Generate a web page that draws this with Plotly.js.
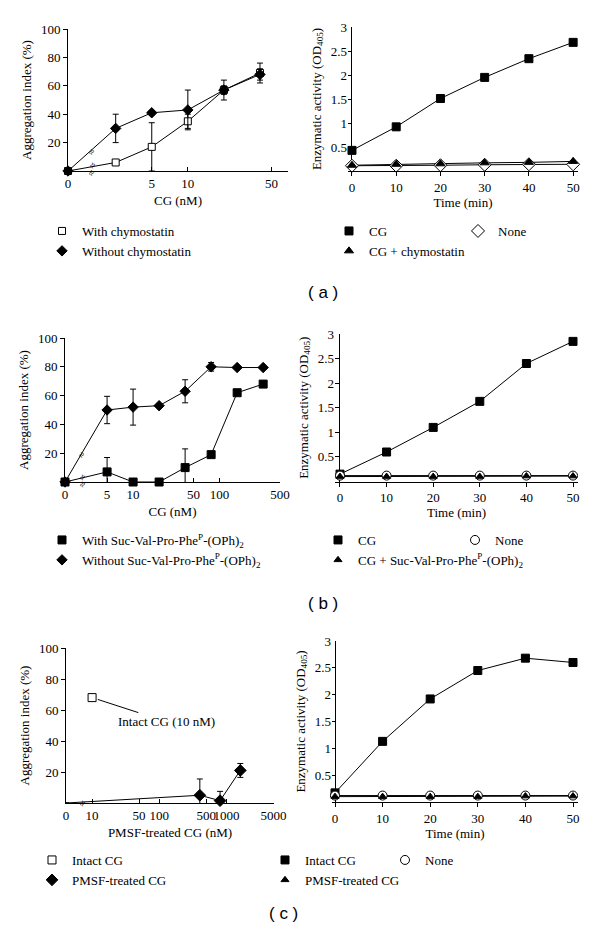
<!DOCTYPE html>
<html><head><meta charset="utf-8">
<script src="https://cdn.plot.ly/plotly-3.0.1.min.js"></script>
<style>html,body{margin:0;padding:0;background:#fff}#chart{width:600px;height:933px}</style>
</head><body><div id="chart"></div>
<script>
// ---------- DATA ----------
// (a) left: aggregation vs CG concentration
const concA = [0, 2.5, 5, 10, 20, 40];
const aggWithChymo = [0, 6, 17, 35, 57, 69];
const errWithChymo = [0, 0, 17, 5, 7, 7];
const aggWithoutChymo = [0, 30, 41, 43, 57, 68];
const errWithoutChymo = [0, 10, 1.5, 14, 3, 4];
const ticksA = [0, 5, 10, 50];
// (a) right: enzymatic activity vs time
const timeMin = [0, 10, 20, 30, 40, 50];
const actCG_A = [0.43, 0.92, 1.51, 1.95, 2.34, 2.68];
const actChymo_A = [0.12, 0.14, 0.15, 0.17, 0.18, 0.2];
const actNone_A = [0.11, 0.11, 0.12, 0.13, 0.14, 0.14];
// (b) left
const concB = [0, 5, 10, 20, 40, 80, 160, 320];
const aggWithSuc = [0, 7, 0, 0, 10, 19, 62, 68];
const errWithSuc = [0, 10, 0, 0, 13, 0, 0, 0];
const aggWithoutSuc = [0, 50, 52, 53, 63, 80, 79.5, 79.5];
const errWithoutSuc = [0, 9.5, 12.5, 1, 8, 3, 0, 0];
const ticksB = [0, 5, 10, 50, 100, 500];
// (b) right
const actCG_B = [0.15, 0.6, 1.1, 1.63, 2.4, 2.85];
const actNone_B = [0.12, 0.12, 0.12, 0.12, 0.12, 0.12];
const actSuc_B = [0.1, 0.1, 0.1, 0.1, 0.11, 0.11];
// (c) left
const concPMSF = [0, 400, 800, 1600];
const aggPMSF = [0, 5, 1.5, 21];
const errPMSF = [0, 10.5, 6, 4.5];
const concIntact = [10];
const aggIntact = [68];
const ticksC = [0, 10, 50, 100, 500, 1000, 5000];
// (c) right
const actCG_C = [0.17, 1.13, 1.92, 2.45, 2.68, 2.6];
const actNone_C = [0.12, 0.12, 0.12, 0.12, 0.12, 0.12];
const actPMSF_C = [0.1, 0.1, 0.1, 0.1, 0.11, 0.11];
const aggTicks = [20, 40, 60, 80, 100];
const actTicks = [0.5, 1, 1.5, 2, 2.5, 3];
const timeTicks = [0, 10, 20, 30, 40, 50];

// ---------- LAYOUT HELPERS ----------
const W = 600, H = 933;
const px = v => v / W;
const py = v => 1 - v / H;
const FONT = '"Liberation Serif", serif';
const BLACK = '#000';
// position used to draw the "0" concentration on the broken log axes
const ZERO_A = 1, ZERO_B = 1.63, ZERO_C = 4.09;
const mapZero = (arr, z) => arr.map(v => v === 0 ? z : v);

function lineTr(x, y, xa, ya) {
  return {x, y, xaxis: xa, yaxis: ya, mode: 'lines', line: {color: BLACK, width: 1},
    showlegend: false, hoverinfo: 'skip', cliponaxis: false};
}
function markTr(name, x, y, xa, ya, sym, fill, size, err, legend) {
  const t = {name, x, y, xaxis: xa, yaxis: ya, mode: 'markers', cliponaxis: false,
    marker: {symbol: sym, size, color: fill, line: {color: BLACK, width: 1}},
    legend: legend};
  if (err) t.error_y = {type: 'data', array: err, visible: true, color: BLACK, thickness: 1, width: 3};
  return t;
}

const xa_A = mapZero(concA, ZERO_A);
const xa_B = mapZero(concB, ZERO_B);
const xa_C = mapZero(concPMSF, ZERO_C);

const data = [
  // (a) left
  lineTr(xa_A, aggWithChymo, 'x', 'y'),
  lineTr(xa_A, aggWithoutChymo, 'x', 'y'),
  markTr('With chymostatin', xa_A, aggWithChymo, 'x', 'y', 'square', '#fff', 7, errWithChymo, 'legend'),
  markTr('Without chymostatin', xa_A, aggWithoutChymo, 'x', 'y', 'diamond', BLACK, 8, errWithoutChymo, 'legend'),
  // (a) right
  lineTr(timeMin, actCG_A, 'x2', 'y2'),
  lineTr(timeMin, actNone_A, 'x2', 'y2'),
  lineTr(timeMin, actChymo_A, 'x2', 'y2'),
  markTr('CG', timeMin, actCG_A, 'x2', 'y2', 'square', BLACK, 8, null, 'legend2'),
  markTr('None', timeMin, actNone_A, 'x2', 'y2', 'diamond', '#fff', 10, null, 'legend3'),
  markTr('CG + chymostatin', timeMin, actChymo_A, 'x2', 'y2', 'triangle-up', BLACK, 8, null, 'legend2'),
  // (b) left
  lineTr(xa_B, aggWithSuc, 'x3', 'y3'),
  lineTr(xa_B, aggWithoutSuc, 'x3', 'y3'),
  markTr('With Suc-Val-Pro-Phe<sup>P</sup>-(OPh)<sub>2</sub>', xa_B, aggWithSuc, 'x3', 'y3', 'square', BLACK, 8, errWithSuc, 'legend4'),
  markTr('Without Suc-Val-Pro-Phe<sup>P</sup>-(OPh)<sub>2</sub>', xa_B, aggWithoutSuc, 'x3', 'y3', 'diamond', BLACK, 8, errWithoutSuc, 'legend4'),
  // (b) right
  lineTr(timeMin, actCG_B, 'x4', 'y4'),
  lineTr(timeMin, actNone_B, 'x4', 'y4'),
  lineTr(timeMin, actSuc_B, 'x4', 'y4'),
  markTr('CG', timeMin, actCG_B, 'x4', 'y4', 'square', BLACK, 8, null, 'legend5'),
  markTr('None', timeMin, actNone_B, 'x4', 'y4', 'circle', '#fff', 9, null, 'legend6'),
  markTr('CG + Suc-Val-Pro-Phe<sup>P</sup>-(OPh)<sub>2</sub>', timeMin, actSuc_B, 'x4', 'y4', 'triangle-up', BLACK, 7, null, 'legend5'),
  // (c) left
  markTr('Intact CG', concIntact, aggIntact, 'x5', 'y5', 'square', '#fff', 8, null, 'legend7'),
  lineTr(xa_C, aggPMSF, 'x5', 'y5'),
  markTr('PMSF-treated CG', xa_C, aggPMSF, 'x5', 'y5', 'diamond', BLACK, 9, errPMSF, 'legend7'),
  // (c) right
  lineTr(timeMin, actCG_C, 'x6', 'y6'),
  lineTr(timeMin, actNone_C, 'x6', 'y6'),
  lineTr(timeMin, actPMSF_C, 'x6', 'y6'),
  markTr('Intact CG', timeMin, actCG_C, 'x6', 'y6', 'square', BLACK, 8, null, 'legend8'),
  markTr('None', timeMin, actNone_C, 'x6', 'y6', 'circle', '#fff', 9, null, 'legend9'),
  markTr('PMSF-treated CG', timeMin, actPMSF_C, 'x6', 'y6', 'triangle-up', BLACK, 7, null, 'legend8'),
];

const tickFont = {family: FONT, size: 13, color: BLACK};
const titleFont = {family: FONT, size: 13, color: BLACK};
function logX(dom, range, anchor, tv, zero, title) {
  return {type: 'log', domain: dom, range, anchor, showline: true, linecolor: BLACK, linewidth: 1,
    ticks: 'inside', ticklen: 4, tickcolor: BLACK, showgrid: false, zeroline: false, tickangle: 0,
    tickvals: tv.map(v => v === 0 ? zero : v), ticktext: tv.map(String), tickfont: tickFont,
    title: {text: title, font: titleFont, standoff: 6}, automargin: false, fixedrange: true};
}
function linX(dom, range, anchor) {
  return {domain: dom, range, anchor, showline: true, linecolor: BLACK, linewidth: 1,
    ticks: 'outside', ticklen: 4, tickcolor: BLACK, showgrid: false, tickangle: 0,
    zeroline: true, zerolinecolor: BLACK, zerolinewidth: 1,
    tickvals: timeTicks, tickfont: tickFont,
    title: {text: 'Time (min)', font: titleFont, standoff: 2}, automargin: false, fixedrange: true};
}
function aggY(dom, anchor) {
  return {domain: dom, range: [0, 100], anchor, showline: true, linecolor: BLACK, linewidth: 1,
    ticks: 'outside', ticklen: 4, tickcolor: BLACK, showgrid: false, zeroline: false,
    tickvals: aggTicks, tickfont: tickFont,
    title: {text: 'Aggregation index (%)', font: titleFont, standoff: 6}, automargin: false, fixedrange: true};
}
function actY(dom, anchor) {
  return {domain: dom, range: [0, 3], anchor, showline: false,
    ticks: 'inside', ticklen: 4, tickcolor: BLACK, showgrid: false, zeroline: false,
    tickvals: actTicks, tickfont: tickFont,
    title: {text: 'Enzymatic activity (OD<sub>405</sub>)', font: titleFont, standoff: 6}, automargin: false, fixedrange: true};
}
function leg(x, y) {
  return {x: px(x), y: py(y), xanchor: 'left', yanchor: 'top', bgcolor: 'rgba(0,0,0,0)',
    font: {family: FONT, size: 13, color: BLACK}, tracegroupgap: 0, itemclick: false, itemdoubleclick: false};
}

const breakFont = {family: FONT, size: 10, color: BLACK};
function brk(x, y) {
  return {xref: 'paper', yref: 'paper', x: px(x), y: py(y), xanchor: 'center', yanchor: 'middle',
    text: '≈', showarrow: false, textangle: -60, font: breakFont};
}
function panelLbl(t, x, y) {
  return {xref: 'paper', yref: 'paper', x: px(x), y: py(y), xanchor: 'center', yanchor: 'middle',
    text: '( ' + t + ' )', showarrow: false,
    font: {family: '"Liberation Sans", Arial, sans-serif', size: 17, color: BLACK}};
}

const layout = {
  width: W, height: H, margin: {l: 0, r: 0, t: 0, b: 0},
  paper_bgcolor: '#fff', plot_bgcolor: 'rgba(0,0,0,0)',
  font: {family: FONT, color: BLACK},
  showlegend: true, hovermode: false,
  xaxis: logX([px(68), px(288)], [0, 1.836], 'y', ticksA, ZERO_A, 'CG (nM)'),
  yaxis: aggY([py(171), py(29)], 'x'),
  xaxis2: linX([px(348), px(578)], [-0.9, 51.1], 'y2'),
  yaxis2: actY([py(171), py(27)], 'x2'),
  xaxis3: logX([px(65), px(280)], [0.212, 2.7], 'y3', ticksB, ZERO_B, 'CG (nM)'),
  yaxis3: aggY([py(482), py(338)], 'x3'),
  xaxis4: linX([px(335), px(578)], [-1.07, 51.07], 'y4'),
  yaxis4: actY([py(481.5), py(334)], 'x4'),
  xaxis5: logX([px(66), px(274)], [0.612, 3.705], 'y5', ticksC, ZERO_C, 'PMSF-treated CG (nM)'),
  yaxis5: aggY([py(803), py(648)], 'x5'),
  xaxis6: linX([px(332), px(578)], [-0.63, 51.05], 'y6'),
  yaxis6: actY([py(802), py(641)], 'x6'),
  legend: leg(42, 216),
  legend2: leg(329, 216),
  legend3: leg(458, 216),
  legend4: leg(42, 525),
  legend5: leg(318, 525),
  legend6: leg(455, 525),
  legend7: leg(32, 845),
  legend8: leg(265, 845),
  legend9: leg(385, 845),
  annotations: [
    {xref: 'x5', yref: 'y5', x: Math.log10(concIntact[0]), y: aggIntact[0], text: 'Intact CG (10 nM)',
      showarrow: true, arrowhead: 0, arrowwidth: 1, arrowcolor: BLACK, ax: 74, ay: 24, standoff: 6,
      font: {family: FONT, size: 13, color: BLACK}},
    brk(92, 152), brk(92, 165), brk(92, 173),
    brk(82, 455), brk(82, 477), brk(82, 484),
    brk(82, 803),
    panelLbl('a', 323, 292),
    panelLbl('b', 323, 603),
    panelLbl('c', 283, 913),
  ],
};

Plotly.newPlot('chart', data, layout, {displayModeBar: false, staticPlot: true});
</script>
</body></html>
